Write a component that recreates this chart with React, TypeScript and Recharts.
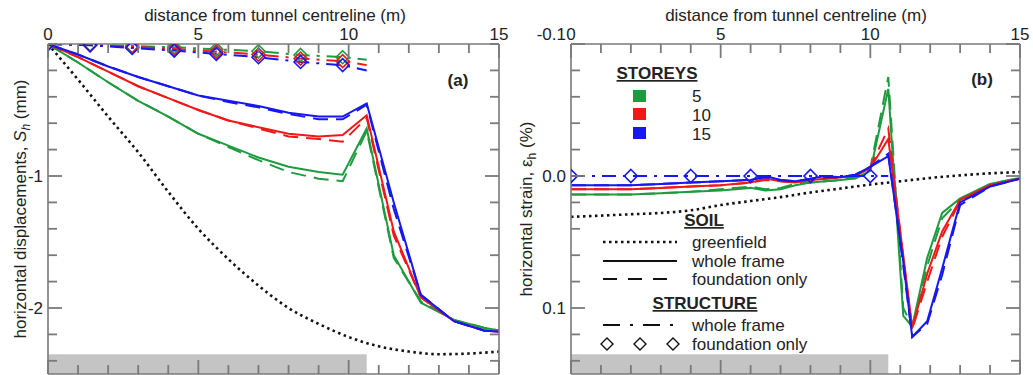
import React from "react";
import { LineChart, Line, XAxis, YAxis, ReferenceArea } from "recharts";

const GREEN = "#1f9b3f";
const RED = "#f01818";
const BLUE = "#1717f0";
const FRAME = "#7a7a7a";
const INK = "#222";
const FONT = "'Liberation Sans', Arial, sans-serif";
const FS = 17;

const DOTTED = "2.5 3.5";
const DASHED = "15 8";
const DASHDOT = "14 7 3 7";

// x axis (shared)
const X_TICKS = [0, 1, 2, 3, 4, 5, 6, 7, 8, 9, 10, 11, 12, 13, 14, 15];
const BUILDING_END = 10.6;

// ---- panel (a): horizontal displacement (mm)
const A_Y_TICKS = [0, -0.2, -0.4, -0.6, -0.8, -1, -1.2, -1.4, -1.6, -1.8, -2, -2.2, -2.4];
const A_GF_X = [0, 1, 2, 3, 4, 5, 6, 7, 8, 9, 10, 11, 12, 13, 14, 15];
const A_GF = [0, -0.27, -0.55, -0.82, -1.12, -1.4, -1.63, -1.83, -2.0, -2.12, -2.22, -2.29, -2.33, -2.35, -2.345, -2.33];

const A_SOIL_X = [0, 1, 2, 3, 4, 5, 6, 7, 8, 9, 9.8, 10.6, 11.5, 12.4, 13.5, 14.5, 15];
const A_WF_5 = [0, -0.14, -0.29, -0.43, -0.55, -0.68, -0.77, -0.86, -0.93, -0.97, -0.99, -0.64, -1.6, -1.96, -2.09, -2.15, -2.17];
const A_FO_5 = [0, -0.14, -0.29, -0.43, -0.55, -0.68, -0.78, -0.88, -0.97, -1.02, -1.04, -0.66, -1.62, -1.95, -2.09, -2.15, -2.17];
const A_WF_10 = [0, -0.1, -0.21, -0.32, -0.41, -0.5, -0.58, -0.63, -0.68, -0.7, -0.69, -0.54, -1.42, -1.92, -2.1, -2.17, -2.18];
const A_FO_10 = [0, -0.1, -0.21, -0.32, -0.41, -0.5, -0.58, -0.64, -0.7, -0.72, -0.74, -0.56, -1.45, -1.92, -2.1, -2.17, -2.18];
const A_WF_15 = [0, -0.08, -0.17, -0.25, -0.32, -0.39, -0.43, -0.47, -0.52, -0.55, -0.55, -0.45, -1.2, -1.9, -2.1, -2.17, -2.18];
const A_FO_15 = [0, -0.08, -0.17, -0.25, -0.32, -0.39, -0.44, -0.48, -0.53, -0.57, -0.57, -0.46, -1.25, -1.9, -2.1, -2.17, -2.18];

const A_STR_X = [0, 1.4, 2.8, 4.2, 5.6, 7, 8.4, 9.8, 10.6];
const A_SWF_5 = [0, -0.005, -0.015, -0.025, -0.04, -0.055, -0.083, -0.1, -0.12];
const A_SWF_10 = [0, -0.008, -0.022, -0.038, -0.058, -0.08, -0.11, -0.13, -0.16];
const A_SWF_15 = [0, -0.01, -0.03, -0.05, -0.075, -0.1, -0.136, -0.16, -0.2];
const A_SFO_X = [0, 1.4, 2.8, 4.2, 5.6, 7, 8.4, 9.8];
const A_SFO_5 = [0, -0.005, -0.015, -0.025, -0.04, -0.055, -0.083, -0.1];
const A_SFO_10 = [0, -0.008, -0.022, -0.038, -0.058, -0.08, -0.11, -0.13];
const A_SFO_15 = [0, -0.01, -0.03, -0.05, -0.075, -0.1, -0.136, -0.16];

// ---- panel (b): horizontal strain (%)
const B_Y_TICKS = [-0.1, -0.08, -0.06, -0.04, -0.02, 0, 0.02, 0.04, 0.06, 0.08, 0.1, 0.12, 0.14];
const B_GF_X = [0, 1, 2, 3, 4, 5, 6, 7, 8, 9, 10, 11, 12, 13, 14, 15];
const B_GF = [0.031, 0.030, 0.029, 0.028, 0.026, 0.022, 0.019, 0.016, 0.0125, 0.0095, 0.0065, 0.004, 0.0015, -0.0005, -0.002, -0.003];

const B_SOIL_X = [0, 1, 2, 3, 4, 5, 6, 6.5, 7, 7.5, 8, 8.5, 9, 9.5, 10, 10.6, 11.1, 11.4, 11.9, 12.4, 13, 14, 15];
const B_WF_5 = [0.014, 0.014, 0.014, 0.013, 0.012, 0.011, 0.009, 0.011, 0.01, 0.007, 0.005, 0.004, 0.003, 0.002, -0.004, -0.066, 0.106, 0.114, 0.062, 0.028, 0.017, 0.006, 0.0015];
const B_FO_5 = [0.014, 0.014, 0.014, 0.013, 0.012, 0.01, 0.008, 0.01, 0.009, 0.006, 0.005, 0.004, 0.003, 0.001, -0.006, -0.075, 0.1, 0.114, 0.068, 0.032, 0.018, 0.006, 0.0015];
const B_WF_10 = [0.01, 0.01, 0.01, 0.009, 0.008, 0.007, 0.005, 0.002, 0.004, 0.005, 0.003, 0.002, 0.001, 0, -0.006, -0.028, 0.06, 0.115, 0.074, 0.042, 0.018, 0.007, 0.002];
const B_FO_10 = [0.01, 0.01, 0.01, 0.009, 0.008, 0.007, 0.005, 0.003, 0.004, 0.005, 0.003, 0.002, 0.001, 0, -0.007, -0.036, 0.062, 0.116, 0.08, 0.046, 0.019, 0.007, 0.002];
const B_WF_15 = [0.007, 0.007, 0.007, 0.006, 0.005, 0.004, 0.003, 0, 0.003, 0.004, 0.002, 0, 0.001, -0.001, -0.007, -0.015, 0.065, 0.122, 0.11, 0.07, 0.02, 0.008, 0.002];
const B_FO_15 = [0.007, 0.007, 0.007, 0.006, 0.005, 0.004, 0.003, 0.001, 0.003, 0.004, 0.002, 0.001, 0.001, -0.001, -0.007, -0.017, 0.068, 0.122, 0.112, 0.075, 0.022, 0.008, 0.002];

const B_STR_X = [0, 2, 4, 6, 8, 10, 10.6];
const B_SWF = [0, 0, 0, 0, 0, 0, 0];
const B_SFO_X = [0, 2, 4, 6, 8, 10];
const B_SFO = [0, 0, 0, 0, 0, 0];

const zip = (xs: number[], ys: number[]) => xs.map((x, i) => ({ x, y: ys[i] }));

// plot boxes (page px) that follow from the chart sizes/margins below
const BOX_A = { left: 48, right: 499, top: 44, bottom: 374 };
const BOX_B = { left: 571, right: 1020, top: 44, bottom: 374 };
const TICK_MINOR = 9;
const TICK_MAJOR = 14;

const textStyle = { fontFamily: FONT, fontSize: FS, fill: INK };

// tick labels only (the inward tick marks are drawn on the frame overlay)
const xLabel = (props: any) => {
  const { x, y, payload } = props;
  const v = payload.value;
  if (v % 5 !== 0) return <g />;
  return <text x={x} y={y - 4} textAnchor="middle" style={textStyle}>{v}</text>;
};

const yLabel = (isMajor: (v: number) => boolean, fmt: (v: number) => string, topLift = 0) => (props: any) => {
  const { x, y, payload, index } = props;
  const v = payload.value;
  if (!isMajor(v)) return <g />;
  return (
    <text x={x - 5} y={y + 6 - (index === 0 ? topLift : 0)} textAnchor="end" style={textStyle}>{fmt(v)}</text>
  );
};

const diamond = (color: string) => (p: any) => {
  const { cx, cy, index } = p;
  const r = 6.5;
  return (
    <path
      key={`d-${color}-${index}`}
      d={`M${cx},${cy - r}L${cx + r},${cy}L${cx},${cy + r}L${cx - r},${cy}Z`}
      fill="none"
      stroke={color}
      strokeWidth={1.6}
    />
  );
};

const axisLine = { stroke: FRAME, strokeWidth: 1.6 };
const axisCommon = { type: "number", interval: 0, tickSize: 0, tickMargin: 0, tickLine: false, axisLine, allowDataOverflow: true } as const;
const common = { xAxisId: "t", yAxisId: "l", isAnimationActive: false, dot: false, activeDot: false } as const;

const isMajA = (v: number) => Math.abs(v - Math.round(v)) < 1e-6 && v !== 0;
const isMajB = (v: number) => Math.abs(v * 10 - Math.round(v * 10)) < 1e-6;

function PanelA() {
  return (
    <LineChart width={516} height={375} margin={{ top: 0, right: 16, bottom: 0, left: 0 }}>
      <ReferenceArea xAxisId="t" yAxisId="l" x1={0} x2={BUILDING_END} y1={-2.35} y2={-2.5} fill="#c4c4c4" fillOpacity={1} stroke="none" />
      <XAxis {...axisCommon} xAxisId="t" dataKey="x" orientation="top" domain={[0, 15]} ticks={X_TICKS} tick={xLabel} height={44} />
      <XAxis {...axisCommon} xAxisId="b" dataKey="x" orientation="bottom" domain={[0, 15]} ticks={X_TICKS} tick={false} height={1} />
      <YAxis {...axisCommon} yAxisId="l" dataKey="y" domain={[-2.5, 0]} ticks={A_Y_TICKS} tick={yLabel(isMajA, (v) => String(v))} width={48} />
      <YAxis {...axisCommon} yAxisId="r" orientation="right" domain={[-2.5, 0]} ticks={A_Y_TICKS} tick={false} width={1} />

      <Line {...common} data={zip(A_GF_X, A_GF)} dataKey="y" type="monotone" stroke="#111" strokeWidth={2.6} strokeDasharray={DOTTED} />

      <Line {...common} data={zip(A_SOIL_X, A_FO_5)} dataKey="y" stroke={GREEN} strokeWidth={2} strokeDasharray={DASHED} />
      <Line {...common} data={zip(A_SOIL_X, A_WF_5)} dataKey="y" stroke={GREEN} strokeWidth={2} />
      <Line {...common} data={zip(A_SOIL_X, A_FO_10)} dataKey="y" stroke={RED} strokeWidth={2} strokeDasharray={DASHED} />
      <Line {...common} data={zip(A_SOIL_X, A_WF_10)} dataKey="y" stroke={RED} strokeWidth={2} />
      <Line {...common} data={zip(A_SOIL_X, A_FO_15)} dataKey="y" stroke={BLUE} strokeWidth={2} strokeDasharray={DASHED} />
      <Line {...common} data={zip(A_SOIL_X, A_WF_15)} dataKey="y" stroke={BLUE} strokeWidth={2} />

      <Line {...common} data={zip(A_STR_X, A_SWF_5)} dataKey="y" stroke={GREEN} strokeWidth={2} strokeDasharray={DASHDOT} />
      <Line {...common} data={zip(A_SFO_X, A_SFO_5)} dataKey="y" stroke="none" dot={diamond(GREEN)} />
      <Line {...common} data={zip(A_STR_X, A_SWF_10)} dataKey="y" stroke={RED} strokeWidth={2} strokeDasharray={DASHDOT} />
      <Line {...common} data={zip(A_SFO_X, A_SFO_10)} dataKey="y" stroke="none" dot={diamond(RED)} />
      <Line {...common} data={zip(A_STR_X, A_SWF_15)} dataKey="y" stroke={BLUE} strokeWidth={2} strokeDasharray={DASHDOT} />
      <Line {...common} data={zip(A_SFO_X, A_SFO_15)} dataKey="y" stroke="none" dot={diamond(BLUE)} />
    </LineChart>
  );
}

function PanelB() {
  return (
    <LineChart width={517} height={375} margin={{ top: 0, right: 12, bottom: 0, left: 0 }}>
      <ReferenceArea xAxisId="t" yAxisId="l" x1={0} x2={BUILDING_END} y1={0.135} y2={0.15} fill="#c4c4c4" fillOpacity={1} stroke="none" />
      <XAxis {...axisCommon} xAxisId="t" dataKey="x" orientation="top" domain={[0, 15]} ticks={X_TICKS} tick={xLabel} height={44} />
      <XAxis {...axisCommon} xAxisId="b" dataKey="x" orientation="bottom" domain={[0, 15]} ticks={X_TICKS} tick={false} height={1} />
      <YAxis {...axisCommon} yAxisId="l" dataKey="y" reversed domain={[-0.1, 0.15]} ticks={B_Y_TICKS} tick={yLabel(isMajB, (v) => v.toFixed(1), 10)} width={55} />
      <YAxis {...axisCommon} yAxisId="r" orientation="right" reversed domain={[-0.1, 0.15]} ticks={B_Y_TICKS} tick={false} width={1} />

      <Line {...common} data={zip(B_GF_X, B_GF)} dataKey="y" type="monotone" stroke="#111" strokeWidth={2.6} strokeDasharray={DOTTED} />

      <Line {...common} data={zip(B_SOIL_X, B_FO_5)} dataKey="y" stroke={GREEN} strokeWidth={2} strokeDasharray={DASHED} />
      <Line {...common} data={zip(B_SOIL_X, B_WF_5)} dataKey="y" stroke={GREEN} strokeWidth={2} />
      <Line {...common} data={zip(B_SOIL_X, B_FO_10)} dataKey="y" stroke={RED} strokeWidth={2} strokeDasharray={DASHED} />
      <Line {...common} data={zip(B_SOIL_X, B_WF_10)} dataKey="y" stroke={RED} strokeWidth={2} />
      <Line {...common} data={zip(B_SOIL_X, B_FO_15)} dataKey="y" stroke={BLUE} strokeWidth={2} strokeDasharray={DASHED} />
      <Line {...common} data={zip(B_SOIL_X, B_WF_15)} dataKey="y" stroke={BLUE} strokeWidth={2} />

      <Line {...common} data={zip(B_STR_X, B_SWF)} dataKey="y" stroke={BLUE} strokeWidth={2} strokeDasharray={DASHDOT} />
      <Line {...common} data={zip(B_SFO_X, B_SFO)} dataKey="y" stroke="none" dot={diamond(BLUE)} />
    </LineChart>
  );
}

// inward frame ticks on all four sides of a plot box, one line element per tick
function FrameTicks(props: {
  box: { left: number; right: number; top: number; bottom: number };
  yTicks: number[];
  yDomain: [number, number]; // value at top, value at bottom
  isMajorY: (v: number) => boolean;
}) {
  const { box, yTicks, yDomain, isMajorY } = props;
  const sx = (v: number) => box.left + (v / 15) * (box.right - box.left);
  const sy = (v: number) => box.top + ((v - yDomain[0]) / (yDomain[1] - yDomain[0])) * (box.bottom - box.top);
  const lines: React.ReactElement[] = [];
  X_TICKS.forEach((v, i) => {
    const len = v % 5 === 0 ? TICK_MAJOR : TICK_MINOR;
    const x = sx(v);
    lines.push(<line key={`xt${i}`} x1={x} x2={x} y1={box.top} y2={box.top + len} />);
    lines.push(<line key={`xb${i}`} x1={x} x2={x} y1={box.bottom} y2={box.bottom - len} />);
  });
  yTicks.forEach((v, i) => {
    const len = isMajorY(v) ? TICK_MAJOR : TICK_MINOR;
    const y = sy(v);
    lines.push(<line key={`yl${i}`} x1={box.left} x2={box.left + len} y1={y} y2={y} />);
    lines.push(<line key={`yr${i}`} x1={box.right} x2={box.right - len} y1={y} y2={y} />);
  });
  return <g stroke={FRAME} strokeWidth={1.8}>{lines}</g>;
}

function Overlay() {
  const t = { fontFamily: FONT, fontSize: FS, fill: INK };
  const b = { ...t, fontWeight: 700 };
  const legX = 603;
  const legX2 = 677;
  const txtX = 692;
  return (
    <svg width={1033} height={375} style={{ position: "absolute", left: 0, top: 0, pointerEvents: "none" }}>
      <FrameTicks box={BOX_A} yTicks={A_Y_TICKS} yDomain={[0, -2.5]} isMajorY={isMajA} />
      <FrameTicks box={BOX_B} yTicks={B_Y_TICKS} yDomain={[-0.1, 0.15]} isMajorY={isMajB} />

      <text x={275} y={21} textAnchor="middle" style={t}>distance from tunnel centreline (m)</text>
      <text x={796} y={21} textAnchor="middle" style={t}>distance from tunnel centreline (m)</text>

      <text transform="translate(26,209) rotate(-90)" textAnchor="middle" style={t}>
        horizontal displacements, <tspan fontStyle="italic">S</tspan>
        <tspan fontStyle="italic" fontSize={12} dy={4}>h</tspan>
        <tspan dy={-4}> (mm)</tspan>
      </text>
      <text transform="translate(532,209) rotate(-90)" textAnchor="middle" style={t}>
        horizontal strain, ε<tspan fontSize={12} dy={4}>h</tspan>
        <tspan dy={-4}> (%)</tspan>
      </text>

      <text x={458} y={86} textAnchor="middle" style={b}>(a)</text>
      <text x={982} y={85} textAnchor="middle" style={b}>(b)</text>

      <text x={657} y={79} textAnchor="middle" style={b} textDecoration="underline">STOREYS</text>
      <rect x={633} y={90} width={13} height={12} fill={GREEN} />
      <rect x={633} y={108} width={13} height={12} fill={RED} />
      <rect x={633} y={127} width={13} height={12} fill={BLUE} />
      <text x={692} y={102} style={t}>5</text>
      <text x={692} y={121} style={t}>10</text>
      <text x={692} y={140} style={t}>15</text>

      <text x={704} y={226} textAnchor="middle" style={b} textDecoration="underline">SOIL</text>
      <line x1={legX} x2={legX2} y1={242} y2={242} stroke="#111" strokeWidth={2.6} strokeDasharray={DOTTED} />
      <text x={txtX} y={248} style={t}>greenfield</text>
      <line x1={legX} x2={legX2} y1={261} y2={261} stroke="#111" strokeWidth={2} />
      <text x={txtX} y={267} style={t}>whole frame</text>
      <line x1={legX} x2={legX2} y1={279} y2={279} stroke="#111" strokeWidth={2} strokeDasharray="14 11" />
      <text x={txtX} y={285} style={t}>foundation only</text>

      <text x={705} y={309} textAnchor="middle" style={b} textDecoration="underline">STRUCTURE</text>
      <line x1={legX} x2={legX2} y1={325} y2={325} stroke="#111" strokeWidth={2} strokeDasharray="17 10 3 10" />
      <text x={txtX} y={331} style={t}>whole frame</text>
      {[607, 640, 673].map((cx) => (
        <path key={cx} d={`M${cx},${344 - 6}L${cx + 6},344L${cx},${344 + 6}L${cx - 6},344Z`} fill="none" stroke="#111" strokeWidth={1.4} />
      ))}
      <text x={txtX} y={350} style={t}>foundation only</text>
    </svg>
  );
}

export default function App() {
  return (
    <div style={{ position: "absolute", left: 0, top: 0, width: 1033, height: 375, background: "#fff" }}>
      <div style={{ position: "absolute", left: 0, top: 0 }}>
        <PanelA />
      </div>
      <div style={{ position: "absolute", left: 516, top: 0 }}>
        <PanelB />
      </div>
      <Overlay />
    </div>
  );
}
